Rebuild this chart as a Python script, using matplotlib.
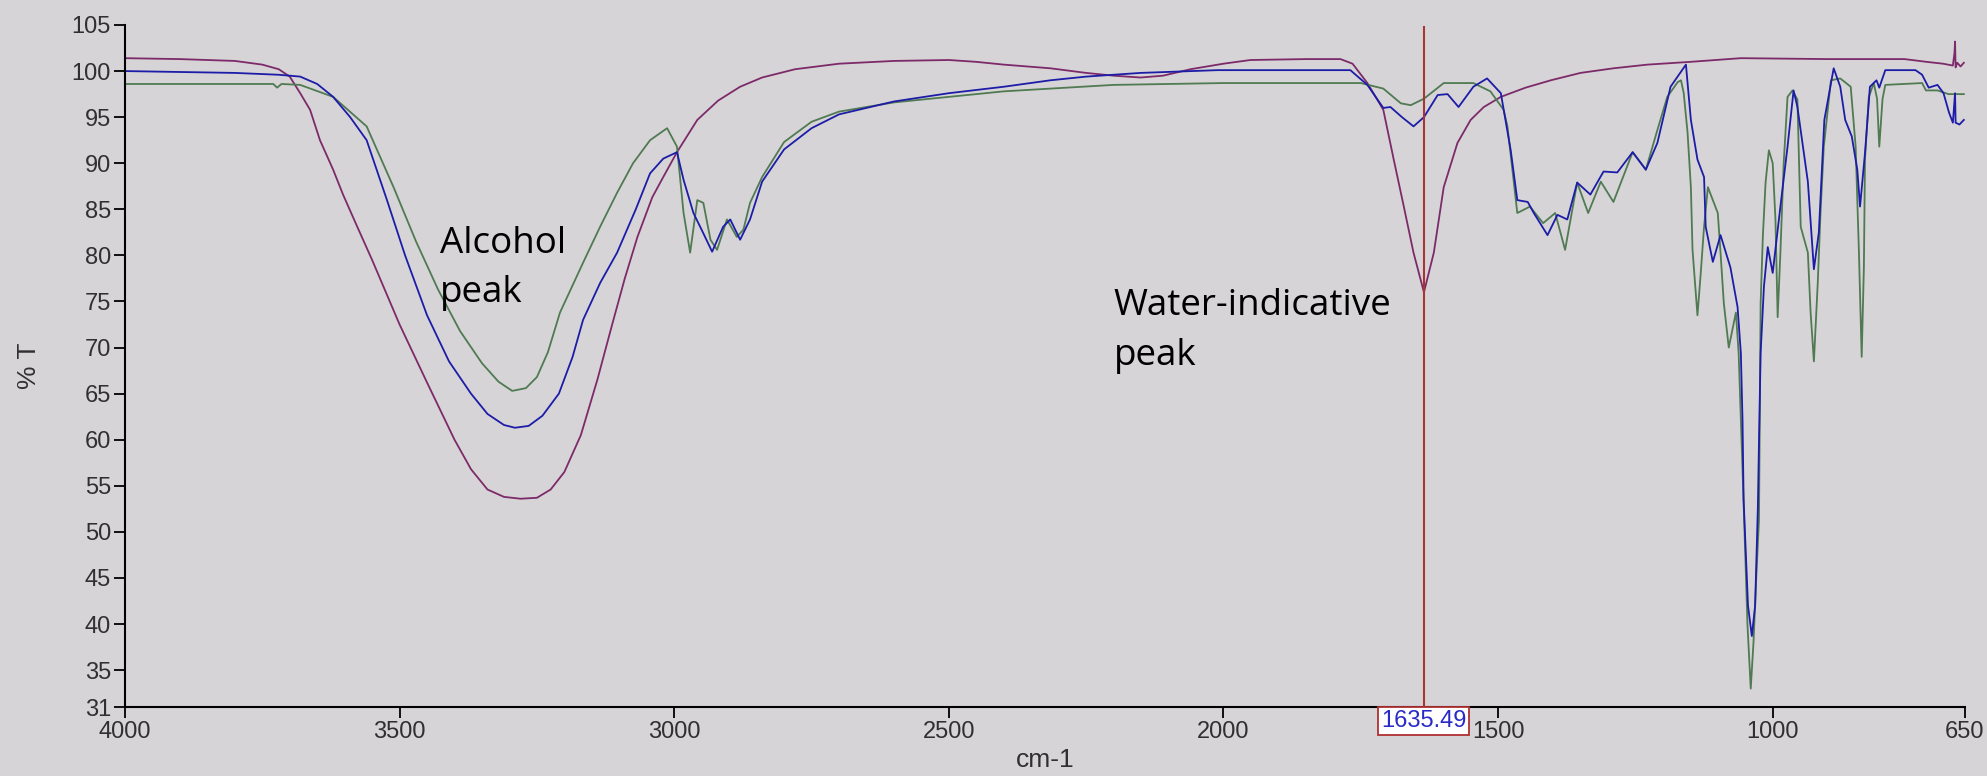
import matplotlib
matplotlib.use("Agg")
import matplotlib.pyplot as plt
import matplotlib.transforms as mtransforms

# purple trace (water-containing sample)
purple_wn = [4000, 3900, 3800, 3750, 3720, 3700, 3681, 3663, 3645, 3621,
             3603, 3580, 3550, 3500, 3450, 3400, 3370, 3340, 3310, 3280,
             3250, 3225, 3200, 3170, 3140, 3113, 3090, 3067, 3040, 3020,
             2995, 2958, 2920, 2880, 2840, 2780, 2700, 2600, 2500, 2450,
             2400, 2315, 2250, 2200, 2151, 2110, 2060, 2000, 1951, 1850,
             1787, 1765, 1738, 1709, 1690, 1672, 1654, 1635, 1617, 1599,
             1574, 1550, 1526, 1495, 1450, 1404, 1350, 1290, 1228, 1150,
             1058, 900, 760, 720, 690, 672, 669, 668, 667, 664,
             658, 652]
purple_t = [101.4, 101.3, 101.1, 100.7, 100.2, 99.4, 97.6, 95.8, 92.5, 89.3,
            86.6, 83.5, 79.5, 72.5, 66.2, 60.0, 56.8, 54.6, 53.8, 53.6,
            53.7, 54.6, 56.5, 60.5, 66.5, 72.5, 77.5, 82.0, 86.3, 88.5,
            91.2, 94.7, 96.8, 98.3, 99.3, 100.2, 100.8, 101.1, 101.2, 101.0,
            100.7, 100.3, 99.8, 99.5, 99.3, 99.5, 100.2, 100.8, 101.2, 101.3,
            101.3, 100.8, 98.7, 95.8, 90.4, 85.4, 80.3, 76.0, 80.3, 87.4,
            92.2, 94.7, 96.1, 97.2, 98.2, 99.0, 99.8, 100.3, 100.7, 101.0,
            101.4, 101.3, 101.3, 101.0, 100.8, 100.6, 102.0, 103.2, 100.4, 100.9,
            100.5, 100.9]

# blue trace
blue_wn = [4000, 3900, 3800, 3720, 3681, 3650, 3621, 3590, 3560, 3523,
           3490, 3450, 3410, 3370, 3340, 3310, 3290, 3265, 3240, 3210,
           3185, 3166, 3135, 3104, 3070, 3044, 3020, 2995, 2983, 2965,
           2947, 2931, 2911, 2898, 2880, 2862, 2840, 2800, 2750, 2700,
           2600, 2500, 2400, 2315, 2250, 2151, 2011, 1769, 1738, 1709,
           1696, 1675, 1654, 1635, 1610, 1592, 1572, 1545, 1520, 1495,
           1477, 1465, 1446, 1435, 1410, 1392, 1374, 1356, 1332, 1308,
           1283, 1255, 1231, 1210, 1186, 1158, 1149, 1137, 1125, 1122,
           1109, 1095, 1077, 1064, 1058, 1055, 1053, 1045, 1038, 1032,
           1027, 1025, 1022, 1016, 1009, 1000, 986, 973, 962, 955,
           936, 925, 916, 906, 889, 877, 868, 856, 846, 841,
           832, 823, 811, 806, 795, 740, 728, 716, 700, 689,
           679, 672, 668, 667, 660, 652]
blue_t = [100.0, 99.9, 99.8, 99.6, 99.4, 98.6, 97.2, 95.0, 92.5, 86.0,
          80.0, 73.5, 68.5, 65.0, 62.8, 61.6, 61.3, 61.5, 62.6, 65.0,
          69.0, 73.0, 77.0, 80.3, 85.0, 88.9, 90.5, 91.2, 88.2, 84.6,
          82.4, 80.4, 83.1, 83.9, 81.7, 83.9, 88.0, 91.5, 93.8, 95.3,
          96.7, 97.6, 98.3, 99.0, 99.4, 99.8, 100.1, 100.1, 98.5, 96.0,
          96.1, 95.0, 94.0, 95.0, 97.4, 97.5, 96.1, 98.3, 99.2, 97.6,
          91.4, 86.0, 85.8, 84.6, 82.2, 84.4, 83.9, 87.9, 86.6, 89.1,
          89.0, 91.2, 89.3, 92.2, 98.3, 100.7, 94.7, 90.4, 88.5, 83.1,
          79.3, 82.2, 78.7, 74.4, 69.4, 62.2, 53.5, 42.0, 38.7, 42.0,
          52.7, 59.7, 69.4, 76.6, 80.9, 78.1, 85.3, 91.8, 97.9, 96.1,
          88.0, 78.5, 82.5, 94.7, 100.3, 98.3, 94.7, 92.9, 89.3, 85.3,
          91.1, 98.3, 99.0, 98.2, 100.1, 100.1, 99.6, 98.2, 98.5, 97.6,
          95.5, 94.4, 97.6, 94.4, 94.2, 94.7]

# green trace
green_wn = [4000, 3800, 3730, 3723, 3715, 3681, 3621, 3560, 3511, 3470,
            3430, 3390, 3350, 3320, 3295, 3270, 3250, 3230, 3208, 3166,
            3135, 3104, 3075, 3044, 3013, 2995, 2983, 2971, 2958, 2947,
            2934, 2922, 2904, 2886, 2874, 2862, 2840, 2800, 2750, 2700,
            2600, 2500, 2400, 2315, 2200, 2000, 1750, 1709, 1677, 1659,
            1635, 1599, 1545, 1514, 1490, 1483, 1465, 1442, 1418, 1396,
            1378, 1356, 1336, 1313, 1290, 1255, 1231, 1210, 1192, 1173,
            1167, 1162, 1155, 1149, 1146, 1137, 1131, 1125, 1118, 1100,
            1095, 1089, 1080, 1067, 1062, 1058, 1053, 1046, 1040, 1035,
            1030, 1025, 1022, 1018, 1013, 1007, 1000, 995, 991, 986,
            980, 973, 964, 955, 949, 936, 931, 925, 918, 913,
            907, 894, 877, 858, 849, 843, 838, 834, 832, 825,
            816, 810, 806, 800, 795, 728, 721, 700, 680, 652]
green_t = [98.6, 98.6, 98.6, 98.2, 98.6, 98.5, 97.2, 94.0, 87.4, 81.5,
           76.3, 71.8, 68.3, 66.3, 65.3, 65.6, 66.8, 69.5, 73.8, 79.2,
           83.1, 86.8, 90.0, 92.5, 93.8, 91.8, 84.6, 80.3, 86.0, 85.7,
           81.7, 80.6, 83.9, 82.0, 82.8, 85.7, 88.5, 92.3, 94.5, 95.6,
           96.6, 97.2, 97.8, 98.1, 98.5, 98.7, 98.7, 98.1, 96.5, 96.3,
           97.0, 98.7, 98.7, 97.8, 95.8, 94.0, 84.6, 85.3, 83.5, 84.6,
           80.6, 87.9, 84.6, 88.0, 85.8, 91.2, 89.3, 93.6, 97.2, 98.8,
           99.0, 97.6, 93.3, 87.4, 80.6, 73.5, 78.1, 83.1, 87.4, 84.6,
           80.3, 74.8, 70.0, 73.8, 69.4, 62.2, 53.2, 40.0, 33.0, 38.0,
           45.0, 51.3, 74.8, 82.0, 87.9, 91.4, 90.0, 83.9, 73.3, 80.3,
           90.0, 97.2, 97.9, 96.9, 83.1, 80.3, 73.8, 68.5, 77.0, 84.6,
           91.8, 99.0, 99.2, 98.3, 91.8, 80.3, 69.0, 78.7, 90.4, 97.2,
           98.7, 97.0, 91.8, 97.0, 98.5, 98.7, 97.9, 97.9, 97.5, 97.5]

x_ticks = [4000, 3500, 3000, 2500, 2000, 1500, 1000, 650]
y_ticks = [31, 35, 40, 45, 50, 55, 60, 65, 70, 75, 80, 85, 90, 95, 100, 105]
cursor_wn = 1635.49

plt.rcParams['font.family'] = ['Liberation Sans', 'DejaVu Sans']
bg = '#d6d4d6'

fig = plt.figure(figsize=(19.87, 7.76), dpi=100, facecolor=bg)
ax = fig.add_axes([0.0629, 0.0889, 0.9260, 0.8789], facecolor=bg)

ax.plot(purple_wn, purple_t, color='#7c2a6a', lw=1.3)
ax.plot(green_wn, green_t, color='#4f7a52', lw=1.3)
ax.plot(blue_wn, blue_t, color='#1c1ca8', lw=1.3)

ax.plot([cursor_wn, cursor_wn], [31, 104.8], color='#a83434', lw=1.5, zorder=5)

ax.set_xlim(4000, 650)
ax.set_ylim(31, 105)
ax.set_xticks(x_ticks)
ax.set_yticks(y_ticks)
ax.tick_params(axis='both', direction='out', length=8, width=1.3,
               labelsize=17, labelcolor='#303030', pad=2)
for s in ['top', 'right']:
    ax.spines[s].set_visible(False)
for s in ['left', 'bottom']:
    ax.spines[s].set_linewidth(1.5)

ax.set_xlabel('cm-1', fontsize=19, color='#303030', labelpad=4)
ax.set_ylabel('% T', fontsize=19, color='#303030', labelpad=22)

# cursor readout box under the axis
trans = mtransforms.blended_transform_factory(ax.transData, ax.transAxes)
ax.text(cursor_wn, -0.004, '1635.49', transform=trans, ha='center', va='top',
        fontsize=17, color='#2a2ac8', clip_on=False, zorder=6,
        bbox=dict(boxstyle='square,pad=0.12', fc='white', ec='#b03030', lw=1.3))

ann = dict(fontsize=26.5, family=['Open Sans', 'DejaVu Sans'], color='black')
ax.text(3426, 80.3, 'Alcohol', ha='left', va='baseline', **ann)
ax.text(3426, 74.9, 'peak', ha='left', va='baseline', **ann)
ax.text(2200, 73.5, 'Water-indicative', ha='left', va='baseline', **ann)
ax.text(2200, 68.1, 'peak', ha='left', va='baseline', **ann)

fig.savefig('out.png', dpi=100, facecolor=bg)
